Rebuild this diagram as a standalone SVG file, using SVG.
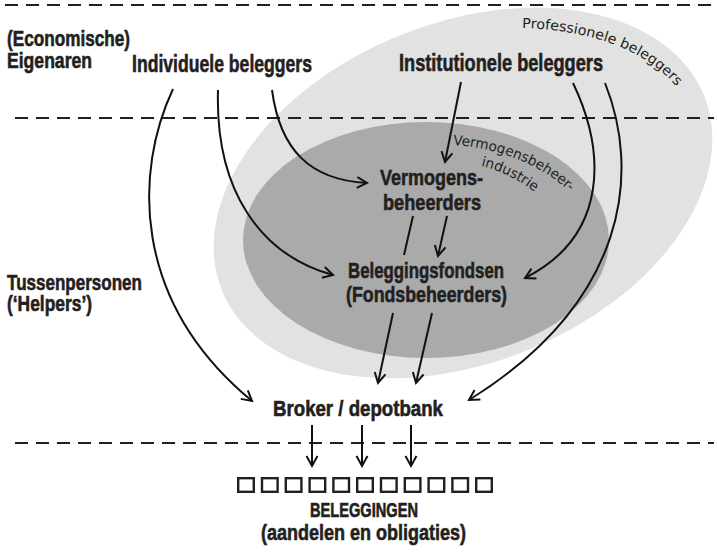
<svg xmlns="http://www.w3.org/2000/svg" width="717" height="552" viewBox="0 0 717 552">
<style>
.t{font-family:"Liberation Sans Narrow","Liberation Sans",sans-serif;font-weight:bold;fill:#231f20;stroke:#231f20;stroke-width:0.6}
.c{font-family:"DejaVu Sans","Noto Sans",sans-serif;font-size:14px;fill:#231f20}
.dash{stroke:#231f20;stroke-width:2;stroke-dasharray:13 8;fill:none}
.ln{stroke:#111;stroke-width:2;fill:none}
.a{marker-end:url(#ah)}
.sq{fill:none;stroke:#231f20;stroke-width:2.4}
</style>
<defs>
<marker id="ah" markerUnits="userSpaceOnUse" markerWidth="16" markerHeight="16" viewBox="-12 -8 14 16" refX="0" refY="0" orient="auto">
<path d="M-10,-5.5 L0,0 L-10,5.5" fill="none" stroke="#111" stroke-width="2"/>
</marker>
<path id="p1" d="M522,28 C585,30 642,46 678,88"/>
<path id="p2" d="M453,145 C500,148 545,165 577,199"/>
<path id="p3" d="M481,166 C500,170 522,181 541,197"/>
</defs>
<g id="zones">
<ellipse id="professionele" cx="463" cy="193" rx="260" ry="170" transform="rotate(-22 463 193)" fill="#e2e2e2"/>
<ellipse id="vermogensbeheerindustrie" cx="426" cy="240" rx="183" ry="118" fill="#aaaaaa"/>
</g>
<g id="separators">
<line class="dash" x1="5" y1="5" x2="714" y2="5"/>
<line class="dash" x1="15" y1="118" x2="714" y2="118"/>
<line class="dash" x1="15" y1="443" x2="714" y2="443"/>
</g>
<g id="labels">
<text class="t" x="7" y="46" font-size="21.5" textLength="123" lengthAdjust="spacingAndGlyphs">(Economische)</text>
<text class="t" x="7" y="68" font-size="21.5" textLength="85" lengthAdjust="spacingAndGlyphs">Eigenaren</text>
<text class="t" x="7" y="290" font-size="21.5" textLength="135" lengthAdjust="spacingAndGlyphs">Tussenpersonen</text>
<text class="t" x="7" y="311" font-size="21.5" textLength="85" lengthAdjust="spacingAndGlyphs">(‘Helpers’)</text>
<text class="c"><textPath href="#p1" textLength="170" lengthAdjust="spacingAndGlyphs">Professionele beleggers</textPath></text>
<text class="c"><textPath href="#p2" textLength="128" lengthAdjust="spacingAndGlyphs">Vermogensbeheer-</textPath></text>
<text class="c"><textPath href="#p3" textLength="60" lengthAdjust="spacingAndGlyphs">industrie</textPath></text>
</g>
<g id="individuele">
<text class="t" x="132" y="71.5" font-size="24" textLength="180" lengthAdjust="spacingAndGlyphs">Individuele beleggers</text>
</g>
<g id="institutionele">
<text class="t" x="399" y="71" font-size="24" textLength="204" lengthAdjust="spacingAndGlyphs">Institutionele beleggers</text>
</g>
<g id="vermogensbeheerders">
<text class="t" x="380" y="185" font-size="22.5" textLength="103" lengthAdjust="spacingAndGlyphs">Vermogens-</text>
<text class="t" x="383" y="210" font-size="22.5" textLength="98" lengthAdjust="spacingAndGlyphs">beheerders</text>
</g>
<g id="beleggingsfondsen">
<text class="t" x="348" y="278" font-size="22.5" textLength="156" lengthAdjust="spacingAndGlyphs">Beleggingsfondsen</text>
<text class="t" x="346" y="302" font-size="22.5" textLength="161" lengthAdjust="spacingAndGlyphs">(Fondsbeheerders)</text>
</g>
<g id="broker">
<text class="t" x="273" y="416" font-size="21.5" textLength="170" lengthAdjust="spacingAndGlyphs">Broker / depotbank</text>
</g>
<g id="beleggingen">
<rect class="sq" x="238.2" y="478.2" width="15.6" height="13.6"/>
<rect class="sq" x="262" y="478.2" width="15.6" height="13.6"/>
<rect class="sq" x="285.8" y="478.2" width="15.6" height="13.6"/>
<rect class="sq" x="309.6" y="478.2" width="15.6" height="13.6"/>
<rect class="sq" x="333.4" y="478.2" width="15.6" height="13.6"/>
<rect class="sq" x="357.2" y="478.2" width="15.6" height="13.6"/>
<rect class="sq" x="381" y="478.2" width="15.6" height="13.6"/>
<rect class="sq" x="404.8" y="478.2" width="15.6" height="13.6"/>
<rect class="sq" x="428.6" y="478.2" width="15.6" height="13.6"/>
<rect class="sq" x="452.4" y="478.2" width="15.6" height="13.6"/>
<rect class="sq" x="476.2" y="478.2" width="15.6" height="13.6"/>
<text class="t" x="310" y="517" font-size="19.5" textLength="108" lengthAdjust="spacingAndGlyphs">BELEGGINGEN</text>
<text class="t" x="261" y="540" font-size="21.5" textLength="205" lengthAdjust="spacingAndGlyphs">(aandelen en obligaties)</text>
</g>
<g id="connectors">
<path class="ln a" d="M173,89 C135,170 130,300 252,401"/>
<path class="ln a" d="M218,90 C215,190 260,255 333,275"/>
<path class="ln a" d="M272,90 C280,150 310,180 367,183"/>
<path class="ln a" d="M461,82 L445,162"/>
<path class="ln a" d="M573,83 C605,150 610,235 525,278"/>
<path class="ln a" d="M605,83 C640,170 630,300 469,400"/>
<path class="ln" d="M413,216 L404,255"/>
<path class="ln a" d="M447,216 L438,256"/>
<path class="ln a" d="M393,313 L378,383"/>
<path class="ln a" d="M432,313 L416,383"/>
<path class="ln a" d="M312,425 L312,466"/>
<path class="ln a" d="M362,425 L362,466"/>
<path class="ln a" d="M411,425 L411,466"/>
</g>
</svg>
